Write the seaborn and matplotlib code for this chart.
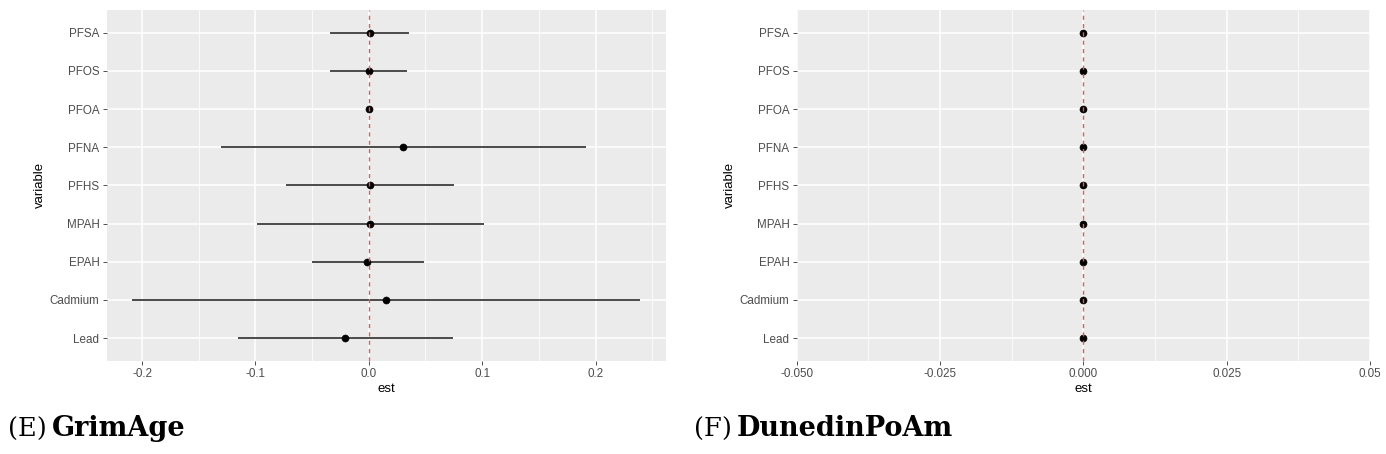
''' forest plots of exposure estimates: GrimAge and DunedinPoAm '''
import matplotlib.pyplot as plt
import seaborn as sns
import pandas as pd
from matplotlib.ticker import MultipleLocator, FixedLocator, NullLocator

#--- data (listed bottom to top, like ggplot factor levels)
variables = ['Lead', 'Cadmium', 'EPAH', 'MPAH', 'PFHS', 'PFNA', 'PFOA', 'PFOS', 'PFSA']

grim_est = [-0.0206, 0.0153, -0.0014, 0.0013, 0.0013, 0.0298, 0.0000, -0.0002, 0.0007]
grim_lo = [-0.1150, -0.2088, -0.0503, -0.0984, -0.0734, -0.1302, -0.0008, -0.0342, -0.0342]
grim_hi = [0.0739, 0.2395, 0.0485, 0.1017, 0.0755, 0.1920, 0.0008, 0.0340, 0.0357]

dun_est = [0.0000, 0.0000, 0.0000, 0.0000, 0.0000, 0.0000, 0.0000, 0.0000, 0.0000]
dun_lo = [-0.0002, -0.0002, -0.0002, -0.0002, -0.0002, -0.0002, -0.0002, -0.0002, -0.0002]
dun_hi = [0.0002, 0.0002, 0.0002, 0.0002, 0.0002, 0.0002, 0.0002, 0.0002, 0.0002]

grim_ticks = [-0.2, -0.1, 0.0, 0.1, 0.2]
grim_labels = ['-0.2', '-0.1', '0.0', '0.1', '0.2']
dun_ticks = [-0.05, -0.025, 0.0, 0.025, 0.05]
dun_labels = ['-0.050', '-0.025', '0.000', '0.025', '0.05']

sns.set_theme(style='darkgrid', rc={'axes.facecolor': '#EBEBEB', 'grid.color': 'white'})
plt.rcParams['font.family'] = ['Liberation Sans', 'DejaVu Sans']


def forest(ax, est, lo, hi, xlim, ticks, labels, minor):
    df = pd.DataFrame({'variable': variables, 'est': est, 'lo': lo, 'hi': hi})
    ax.hlines(y=df['variable'], xmin=df['lo'], xmax=df['hi'],
              color='#1a1a1a', lw=1.1, zorder=3)
    sns.scatterplot(data=df, x='est', y='variable', ax=ax, color='black',
                    s=26, edgecolor='black', linewidth=0.4, zorder=4, legend=False)
    ax.axvline(0, color='#d65f5f', lw=1.0, ls=(0, (3, 3)), zorder=5)
    ax.set_xlim(xlim)
    ax.set_ylim(-0.6, len(variables) - 0.4)
    ax.xaxis.set_major_locator(FixedLocator(ticks))
    ax.set_xticklabels(labels)
    ax.xaxis.set_minor_locator(MultipleLocator(minor))
    ax.yaxis.set_minor_locator(NullLocator())
    ax.grid(which='major', color='white', lw=1.1)
    ax.grid(which='minor', axis='x', color='white', lw=0.55)
    for s in ax.spines.values():
        s.set_visible(False)
    ax.tick_params(which='major', length=2.75, width=0.6, color='#333333',
                   labelcolor='#4d4d4d', labelsize=8.4, pad=2.5,
                   bottom=True, left=True)
    ax.tick_params(which='minor', length=0)
    ax.set_xlabel('est', fontsize=9.5, color='black', labelpad=2)
    ax.set_ylabel('variable', fontsize=9.5, color='black', labelpad=3)


fig = plt.figure(figsize=(13.86, 4.54), dpi=100)
ax1 = fig.add_axes([0.0770, 0.2048, 0.4033, 0.7736])
ax2 = fig.add_axes([0.5748, 0.2048, 0.4136, 0.7736])

pad = 0.05 * (max(grim_hi) - min(grim_lo))
forest(ax1, grim_est, grim_lo, grim_hi, (min(grim_lo) - pad, max(grim_hi) + pad),
       grim_ticks, grim_labels, 0.05)
forest(ax2, dun_est, dun_lo, dun_hi, (-0.05, 0.05), dun_ticks, dun_labels, 0.0125)

#--- panel captions
for x, tag, name in [(8, '(E)', 'GrimAge'), (694, '(F)', 'DunedinPoAm')]:
    t = fig.text(x / 1386, 1 - 437 / 454, tag, fontsize=18.5, family='DejaVu Serif',
                 va='baseline', ha='left', color='black')
    ax1.annotate(name, xy=(1, 0), xycoords=t, xytext=(5, 0), textcoords='offset pixels',
                 va='bottom', ha='left', fontsize=19.5, family='DejaVu Serif',
                 weight='bold', color='black', annotation_clip=False)

plt.savefig('out.png', dpi=100)
